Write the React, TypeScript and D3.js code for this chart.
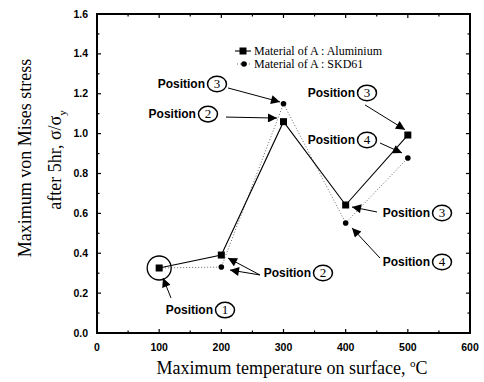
import React from "react";
import * as d3 from "d3";

// temperatures and stresses
const temps = [100, 200, 300, 400, 500];
const aluminium = [0.326, 0.391, 1.06, 0.642, 0.993];
const skd61 = [0.326, 0.331, 1.15, 0.552, 0.878];

const xTicks = [0, 100, 200, 300, 400, 500, 600];
const yTicks = [0, 0.2, 0.4, 0.6, 0.8, 1.0, 1.2, 1.4, 1.6];

// callouts: number bubble position and arrows, in data units
const callouts = [
  { n: "3", at: [193, 1.249], arrows: [[[210.7, 1.229], [294.4, 1.159]]] },
  { n: "2", at: [178.5, 1.098], arrows: [[[207.5, 1.083], [289.5, 1.078]]] },
  { n: "3", at: [434.3, 1.204], arrows: [[[431.1, 1.144], [495.4, 1.02]]] },
  { n: "4", at: [434.3, 0.968], arrows: [[[455.2, 0.953], [490.6, 0.903]]] },
  { n: "3", at: [555, 0.602], arrows: [[[450.4, 0.607], [410.2, 0.632]]] },
  { n: "4", at: [555, 0.356], arrows: [[[455.2, 0.376], [410.2, 0.527]]] },
  {
    n: "2",
    at: [363.5, 0.301],
    arrows: [
      [[262.2, 0.291], [210.7, 0.376]],
      [[262.2, 0.291], [213.9, 0.316]],
    ],
  },
  { n: "1", at: [205.9, 0.115], arrows: [[[119, 0.176], [106.2, 0.276]]] },
];

const W = 484;
const H = 382;
const M = { left: 97, right: 470, top: 14, bottom: 333 };

export default function App() {
  const x = d3.scaleLinear().domain([0, 600]).range([M.left, M.right]);
  const y = d3.scaleLinear().domain([0, 1.6]).range([M.bottom, M.top]);

  const alPts = temps.map((t, i) => [x(t), y(aluminium[i])] as [number, number]);
  const skPts = temps.map((t, i) => [x(t), y(skd61[i])] as [number, number]);
  const line = d3.line();

  const xMinor = d3.range(0, 601, 50);
  const yMinor = d3.range(0, 1.61, 0.1);

  const sans = "'Liberation Sans', Arial, sans-serif";
  const serif = "'Liberation Serif', 'Times New Roman', serif";

  return (
    <svg
      width={W}
      height={H}
      style={{ position: "fixed", left: 0, top: 0, background: "#fff" }}
    >
      <defs>
        <marker
          id="arr"
          viewBox="0 0 10 10"
          refX="10"
          refY="5"
          markerWidth="12"
          markerHeight="9"
          markerUnits="userSpaceOnUse"
          orient="auto"
        >
          <path d="M0,0 L10,5 L0,10 Z" fill="#000" />
        </marker>
      </defs>

      {/* ticks on all four sides */}
      {xMinor.map((v) => {
        const len = v % 100 === 0 ? 4 : 2.5;
        return (
          <g key={"xm" + v} stroke="#000" strokeWidth={1.2}>
            <line x1={x(v)} x2={x(v)} y1={M.bottom} y2={M.bottom - len} />
            <line x1={x(v)} x2={x(v)} y1={M.top} y2={M.top + len} />
          </g>
        );
      })}
      {yMinor.map((v, i) => {
        const len = i % 2 === 0 ? 4 : 2.5;
        return (
          <g key={"ym" + i} stroke="#000" strokeWidth={1.2}>
            <line x1={M.left} x2={M.left + len} y1={y(v)} y2={y(v)} />
            <line x1={M.right} x2={M.right - len} y1={y(v)} y2={y(v)} />
          </g>
        );
      })}

      <rect
        x={M.left}
        y={M.top}
        width={M.right - M.left}
        height={M.bottom - M.top}
        fill="none"
        stroke="#000"
        strokeWidth={2}
      />

      {/* tick labels */}
      {xTicks.map((v) => (
        <text
          key={"xt" + v}
          x={x(v)}
          y={M.bottom + 18}
          textAnchor="middle"
          fontFamily={sans}
          fontWeight="bold"
          fontSize={10.5}
        >
          {v}
        </text>
      ))}
      {yTicks.map((v) => (
        <text
          key={"yt" + v}
          x={88}
          y={y(v) + 3.5}
          textAnchor="end"
          fontFamily={sans}
          fontWeight="bold"
          fontSize={10.5}
        >
          {v.toFixed(1)}
        </text>
      ))}

      {/* axis titles */}
      <text x={292} y={374} textAnchor="middle" fontFamily={serif} fontSize={18}>
        Maximum temperature on surface,{" "}
        <tspan dy={-7} fontSize={11}>
          o
        </tspan>
        <tspan dy={7}>C</tspan>
      </text>
      <text
        transform="translate(31,158) rotate(-90)"
        textAnchor="middle"
        fontFamily={serif}
        fontSize={18}
      >
        Maximum von Mises stress
      </text>
      <text
        transform="translate(61,160) rotate(-90)"
        textAnchor="middle"
        fontFamily={serif}
        fontSize={18}
      >
        after 5hr, σ/σ
        <tspan dy={5} fontSize={11}>
          y
        </tspan>
      </text>

      {/* series */}
      <path
        d={line(skPts) ?? ""}
        fill="none"
        stroke="#666"
        strokeWidth={1}
        strokeDasharray="1 2"
      />
      <path d={line(alPts) ?? ""} fill="none" stroke="#000" strokeWidth={1.1} />
      {skPts.map(([px, py], i) => (
        <circle key={"sk" + i} cx={px} cy={py} r={2.8} fill="#000" />
      ))}
      {alPts.map(([px, py], i) => (
        <rect key={"al" + i} x={px - 3.5} y={py - 3.5} width={7} height={7} fill="#000" />
      ))}

      {/* ring around the first point */}
      <circle
        cx={x(temps[0])}
        cy={y(aluminium[0])}
        r={12}
        fill="none"
        stroke="#000"
        strokeWidth={1.3}
      />

      {/* legend */}
      <g>
        <line x1={235} x2={251} y1={51} y2={51} stroke="#000" strokeWidth={1.1} />
        <rect x={239.5} y={47.5} width={7} height={7} fill="#000" />
        <text x={254} y={55} fontFamily={serif} fontSize={12}>
          Material of A : Aluminium
        </text>
        <line
          x1={237}
          x2={252}
          y1={64}
          y2={64}
          stroke="#666"
          strokeWidth={1}
          strokeDasharray="1 2"
        />
        <circle cx={244} cy={64} r={2.8} fill="#000" />
        <text x={254} y={68} fontFamily={serif} fontSize={12}>
          Material of A : SKD61
        </text>
      </g>

      {/* position callouts */}
      {callouts.map((c, i) => {
        const cx = x(c.at[0]);
        const cy = y(c.at[1]);
        return (
          <g key={"c" + i}>
            <text
              x={cx - 12}
              y={cy + 4}
              textAnchor="end"
              fontFamily={sans}
              fontWeight="bold"
              fontSize={12}
            >
              Position
            </text>
            <ellipse
              cx={cx}
              cy={cy}
              rx={9.5}
              ry={7.8}
              fill="#fff"
              stroke="#000"
              strokeWidth={1.5}
            />
            <text
              x={cx}
              y={cy + 4.2}
              textAnchor="middle"
              fontFamily={serif}
              fontSize={13}
            >
              {c.n}
            </text>
            {c.arrows.map((a, j) => (
              <line
                key={j}
                x1={x(a[0][0])}
                y1={y(a[0][1])}
                x2={x(a[1][0])}
                y2={y(a[1][1])}
                stroke="#000"
                strokeWidth={1}
                markerEnd="url(#arr)"
              />
            ))}
          </g>
        );
      })}
    </svg>
  );
}
